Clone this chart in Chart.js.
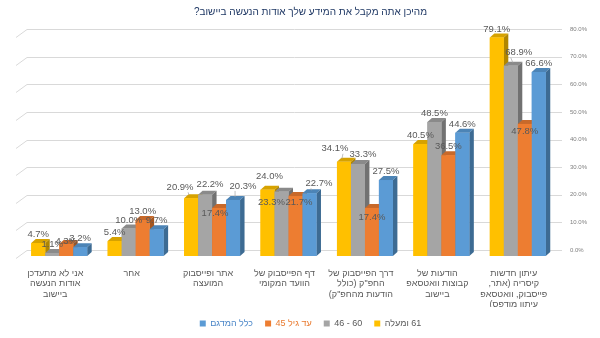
<!DOCTYPE html>
<html lang="he">
<head>
<meta charset="utf-8">
<script src="https://cdn.jsdelivr.net/npm/chart.js@4.4.1/dist/chart.umd.min.js"></script>
<style>
html,body{margin:0;padding:0;background:#fff;}
#wrap{width:600px;height:338px;position:relative;}
canvas{direction:rtl;}
</style>
</head>
<body>
<div id="wrap"><canvas id="c" width="600" height="338"></canvas></div>
<script>
const chartTitle = 'מהיכן אתה מקבל את המידע שלך אודות הנעשה ביישוב?';
const categories = [
  ['עיתון חדשות', 'קיסריה (אתר,', 'פייסבוק, וואטסאפ', 'עיתון מודפס)'],
  ['הודעות של', 'קבוצות וואטסאפ', 'ביישוב'],
  ['דרך הפייסבוק של', 'החפ"ק (כולל', 'הודעות מהחפ"ק)'],
  ['דף הפייסבוק של', 'הוועד המקומי'],
  ['אתר ופייסבוק', 'המועצה'],
  ['אחר'],
  ['אני לא מתעדכן', 'אודות הנעשה', 'ביישוב']
];
const seriesNames = ['61 ומעלה', '\u200E46 - 60', 'עד גיל 45', 'כלל המדגם'];
const age61plus = [79.1, 40.5, 34.1, 24.0, 20.9, 5.4, 4.7];
const age46to60 = [68.9, 48.5, 33.3, 23.3, 22.2, 10.0, 1.1];
const ageUpTo45 = [47.8, 36.5, 17.4, 21.7, 17.4, 13.0, 4.3];
const allSample = [66.6, 44.6, 27.5, 22.7, 20.3, 9.7, 3.2];
const yMin = 0, yMax = 80, yStep = 10;

const F = "'Liberation Sans', 'DejaVu Sans', Arial, sans-serif";
const frontColors = ['#FFC000', '#A5A5A5', '#ED7D31', '#5B9BD5'];
const topColors   = ['#D6A200', '#8A8A8A', '#C8692A', '#4C84B6'];
const sideColors  = ['#B08600', '#717171', '#A5561F', '#3D6B93'];
const legendTextColors = ['#595959', '#595959', '#E97A2F', '#4A86C8'];

const bar3d = {
  id: 'bar3d',
  beforeDatasetsDraw(chart, args, o) {
    const {ctx, chartArea: a, scales: {y}} = chart;
    ctx.save();
    ctx.strokeStyle = '#D9D9D9';
    ctx.lineWidth = 1;
    y.ticks.forEach(t => {
      const yy = Math.round(y.getPixelForValue(t.value) - o.wallDy) + 0.5;
      ctx.beginPath();
      ctx.moveTo(a.left - 5, yy + 8);
      ctx.lineTo(a.left + 6, yy);
      ctx.lineTo(a.right + 6, yy);
      ctx.stroke();
    });
    ctx.restore();
  },
  afterDatasetsDraw(chart, args, o) {
    const ctx = chart.ctx;
    const metas = chart.data.datasets.map((d, i) => chart.getDatasetMeta(i));
    const n = chart.data.labels.length;
    const dx = o.dx, dy = o.dy;
    ctx.save();
    for (let j = 0; j < n; j++) {
      for (let i = 0; i < metas.length; i++) {
        const el = metas[i].data[j];
        const p = el.getProps(['x', 'y', 'base', 'width'], true);
        const l = p.x - p.width / 2, r = p.x + p.width / 2, top = p.y, base = p.base;
        ctx.fillStyle = topColors[i];
        ctx.beginPath();
        ctx.moveTo(l, top); ctx.lineTo(l + dx, top - dy); ctx.lineTo(r + dx, top - dy); ctx.lineTo(r, top);
        ctx.closePath(); ctx.fill();
        ctx.fillStyle = sideColors[i];
        ctx.beginPath();
        ctx.moveTo(r, top); ctx.lineTo(r + dx, top - dy); ctx.lineTo(r + dx, base - dy); ctx.lineTo(r, base);
        ctx.closePath(); ctx.fill();
        ctx.fillStyle = frontColors[i];
        ctx.fillRect(l, top, p.width, base - top);
      }
    }
    ctx.font = o.labelFont;
    ctx.fillStyle = '#595959';
    ctx.textAlign = 'center';
    ctx.textBaseline = 'middle';
    for (let i = 0; i < metas.length; i++) {
      const ds = chart.data.datasets[i];
      metas[i].data.forEach((el, j) => {
        const p = el.getProps(['x', 'y'], true);
        const nud = o.nudge[i + ',' + j] || [0, 0];
        const lx = p.x + nud[0], ly = p.y - 8.5 + nud[1];
        if (Math.abs(nud[0]) >= 8 && nud[1] < 0) {
          ctx.strokeStyle = '#A6A6A6';
          ctx.lineWidth = 0.7;
          ctx.beginPath();
          const sx = lx - Math.sign(nud[0]) * 8;
          ctx.moveTo(sx, ly + 5);
          ctx.lineTo(p.x + Math.sign(nud[0]) * 2, p.y - o.dy + 1);
          ctx.stroke();
        }
        ctx.fillText(ds.data[j].toFixed(1) + '%', lx, ly);
      });
    }
    ctx.restore();
  }
};

new Chart(document.getElementById('c'), {
  type: 'bar',
  data: {
    labels: categories,
    datasets: [
      {label: seriesNames[0], data: age61plus, backgroundColor: frontColors[0]},
      {label: seriesNames[1], data: age46to60, backgroundColor: frontColors[1]},
      {label: seriesNames[2], data: ageUpTo45, backgroundColor: frontColors[2]},
      {label: seriesNames[3], data: allSample, backgroundColor: frontColors[3]}
    ]
  },
  options: {
    responsive: false,
    animation: false,
    layout: {padding: {left: 21, right: 0, top: 0, bottom: 0}},
    datasets: {bar: {categoryPercentage: 0.732, barPercentage: 1, borderWidth: 0}},
    scales: {
      x: {
        reverse: true,
        grid: {display: false, drawTicks: false},
        border: {display: false},
        ticks: {autoSkip: false, maxRotation: 0, minRotation: 0, padding: 12, labelOffset: -4,
                color: '#595959', font: {family: F, size: 9, lineHeight: 1.17}},
        afterFit(s) { s.height = 51; }
      },
      y: {
        position: 'right',
        min: yMin, max: yMax,
        grid: {display: false, drawTicks: false},
        border: {display: false},
        ticks: {stepSize: yStep, padding: 14, labelOffset: -6, color: '#7F7F7F',
                font: {family: F, size: 6}, callback: v => v.toFixed(1) + '%'},
        afterFit(s) { s.width = 44; }
      }
    },
    plugins: {
      title: {display: true, text: chartTitle, color: '#1F3864',
              font: {family: F, size: 10, weight: 'normal', lineHeight: 1.2},
              padding: {top: 6, bottom: 17}},
      legend: {
        position: 'bottom', reverse: true,
        labels: {
          boxWidth: 6, boxHeight: 6, padding: 12, color: '#595959',
          font: {family: F, size: 9},
          generateLabels(chart) {
            const items = Chart.defaults.plugins.legend.labels.generateLabels(chart);
            items.forEach(it => { it.fontColor = legendTextColors[it.datasetIndex]; it.lineWidth = 0; it.strokeStyle = 'rgba(0,0,0,0)'; });
            return items;
          }
        }
      },
      tooltip: {enabled: false},
      bar3d: {
        dx: 4.5, dy: 4, wallDy: 6,
        labelFont: "9.5px 'Liberation Sans', 'DejaVu Sans', Arial, sans-serif",
        nudge: {
          '1,0': [8, -4.5], '2,0': [0, 15.5],
          '0,2': [-9, -4.5], '1,2': [5, -1.5], '2,2': [0, 17.5],
          '0,3': [2, -4.5], '1,3': [-10, 19.5], '2,3': [3.5, 14.5], '3,3': [9.5, -1.5],
          '0,4': [-11, -2.5], '1,4': [5, -1.5], '2,4': [-4, 13.5], '3,4': [10, -5.5],
          '2,6': [0, 5.5]
        }
      }
    }
  },
  plugins: [bar3d]
});
</script>
</body>
</html>
